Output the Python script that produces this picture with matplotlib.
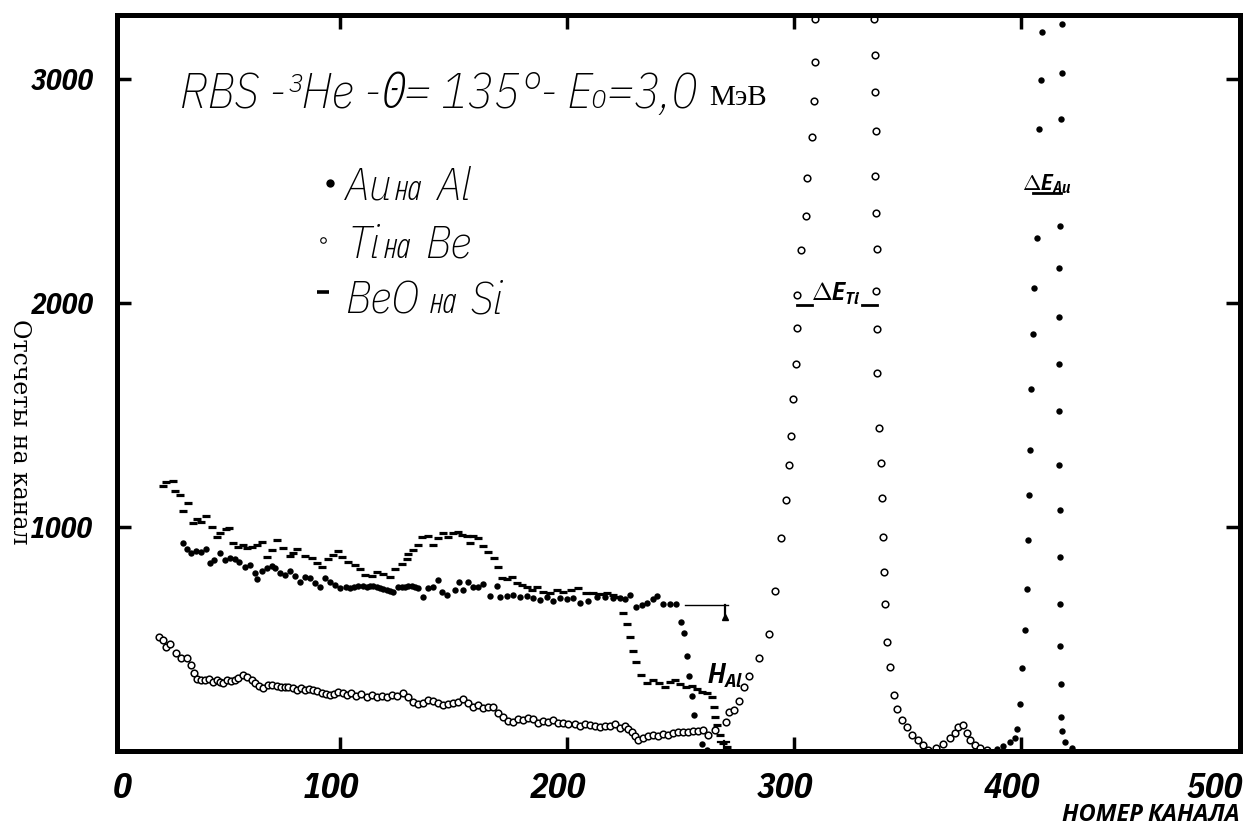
import matplotlib
matplotlib.use("Agg")
import matplotlib.pyplot as plt
from matplotlib.lines import Line2D

# --- Au на Al (filled dots): channel, counts ---
au_ch = [30.7, 32.5, 34.4, 36.6, 39, 41, 42.7, 44.6, 47.1, 49.3, 51.5, 53.7, 55.6, 58.1, 60.4,
         62.6, 63.3, 65.5, 67.7, 69.9, 71.4, 73.6, 75.8, 78, 80.2, 82.4, 84.6, 86.8, 89, 91.2,
         93.4, 95.6, 97.8, 100, 102.5, 104.4, 106.2, 108, 110, 111.8, 113.2, 114.7, 116.2, 117.6,
         119, 120.6, 122, 123.5, 125.7, 127.2, 128.6, 130.1, 131.6, 133, 134.5, 136.7, 138.9, 141.1,
         143.3, 144.8, 147, 150.7, 152.6, 154.3, 156.5, 158.7, 160.9, 163.1, 166.1, 169, 170.5,
         173.4, 176.4, 179.3, 182.2, 185.2, 188.1, 191.1, 194, 196.9, 199.9, 202.8, 205.7, 209.4,
         213.1, 216.7, 220.4, 223.3, 225.6, 227.8, 230.4, 232.9, 235.4, 237.7, 239.8, 242.4, 245.4,
         248, 250.1, 251.5, 253, 253.9, 255.2, 256, 259.3, 261.5,
         389.3, 392.2, 395.2, 397.4, 398.4, 399.6, 400.6, 401.8, 402.5, 403.2, 403.7, 403.9, 404.4,
         405.4, 405.9, 406.9, 408.1, 408.7, 409.1,
         418, 418, 417.6, 417.2, 416.9, 416.9, 416.7, 416.7, 416.9, 417, 417, 417, 417.2, 417.5,
         417.8, 418, 419.4, 422.3]
au_cnt = [930, 902, 882, 894, 890, 900, 838, 853, 882, 853, 860, 856, 845, 820, 830,
          793, 767, 805, 816, 826, 816, 796, 786, 805, 781, 756, 778, 771, 751, 733,
          771, 756, 741, 726, 733, 726, 731, 737, 735, 733, 735, 737, 730, 726,
          722, 719, 715, 711, 731, 733, 733, 735, 737, 731, 726, 689, 726, 733,
          763, 711, 696, 719, 756, 719, 756, 731, 733, 746, 692, 737, 689,
          692, 696, 689, 692, 682, 674, 689, 671, 682, 678, 682, 662, 671,
          689, 689, 682, 682, 678, 696, 641, 652, 662, 678, 692, 656, 656,
          656, 577, 525, 424, 335, 247, 161, 31, 4,
          9, 24, 40, 60, 100, 208, 369, 541, 722, 943, 1142, 1342, 1617,
          1860, 2069, 2290, 2776, 2997, 3211,
          3246, 3026, 2820, 2345, 2158, 1937, 1727, 1518, 1275, 1076, 866, 656, 468, 300,
          150, 90, 42, 13]

# --- Ti на Be (open circles) ---
ti_ch = [20.4, 21.9, 23.6, 25.1, 27.8, 30, 32.5, 34.2, 35.7, 37.1, 38.8, 40.5, 42.4, 44.2, 46,
         47.1, 48.6, 50.4, 52, 53.7, 55.2, 57.4, 59.2, 61.1, 62.6, 64.5, 66.2, 68.4, 70.3, 72.1,
         73.9, 75.8, 77.2, 79.2, 80.9, 82.7, 84.6, 86.5, 88.2, 90, 91.9, 93.8, 95.6, 97.4, 99.3,
         101.2, 102.9, 105.1, 107.3, 109.5, 111.8, 114, 116.2, 118.4, 120.6, 122.8, 125, 127.9,
         130.1, 132.3, 134.5, 136.7, 138.9, 141.1, 143.3, 145.5, 147.7, 149.9, 152.1, 154.3,
         156.5, 158.7, 160.9, 163.1, 165.3, 167.5, 169.7, 171.9, 174.1, 176.3, 178.5, 180.7, 183,
         185.2, 187.4, 189.6, 191.8, 194, 196.2, 198.4, 200.6, 203.5, 205.7, 207.9, 210.1, 212.3,
         214.5, 216.7, 218.9, 221.1, 223.3, 225.6, 227, 228.5, 230, 231.4, 233.6, 235.8, 238,
         240.2, 242.4, 244.6, 246.8, 249, 251.2, 253.4, 255.6, 257.8, 260, 262.2, 265.2,
         270, 271.5, 273.8, 275.8, 278, 280, 284.7, 289, 291.6, 294.1, 296.5, 297.9, 298.7,
         299.7, 300.9, 301.2, 301.2, 303.1, 305.2, 305.9, 307.8, 308.8, 309.3, 309.3,
         335.2, 335.7, 335.7, 336.1, 335.7, 336.1, 336.4, 336.1, 336.4, 336.7, 337.6, 338.2,
         338.7, 339.1, 339.6, 340.1, 340.8, 342.3, 344, 345.6, 347.4, 349.6, 352, 354.8, 357,
         359, 362.8, 365.8, 368.7, 370.9, 372.4, 374.6, 376.3, 377.5, 379.7, 382, 384.9]
ti_cnt = [510, 496, 463, 478, 439, 417, 414, 384, 350, 320, 317, 317, 320, 307, 317,
          310, 302, 317, 312, 317, 327, 339, 332, 317, 305, 290, 280, 295, 295, 290,
          284, 287, 284, 280, 272, 280, 272, 275, 272, 269, 260, 254, 250, 253, 265,
          260, 250, 257, 246, 254, 243, 250, 243, 246, 240, 250, 246, 257,
          243, 220, 210, 213, 228, 225, 213, 205, 210, 213, 220, 231,
          216, 198, 205, 190, 195, 198, 168, 153, 135, 131, 141, 138, 146,
          141, 126, 135, 131, 138, 124, 126, 121, 121, 113, 121, 116, 110,
          106, 113, 110, 121, 101, 113, 98, 86, 65, 51, 57, 65, 71,
          68, 76, 71, 80, 83, 86, 86, 91, 91, 94, 71, 94,
          131, 175, 182, 225, 287, 335, 414, 523, 716, 950, 1120, 1275, 1407,
          1572, 1727, 1887, 2036, 2235, 2390, 2560, 2743, 2902, 3074, 3270,
          3268, 3108, 2942, 2770, 2567, 2400, 2240, 2054, 1882, 1688, 1444, 1285,
          1130, 954, 800, 656, 485, 373, 252, 189, 140, 105, 72, 50, 27,
          5, 12, 31, 58, 81, 109, 114, 81, 50, 27, 13, 5]

# --- BeO на Si (dashes) ---
beo_ch = [21.9, 23.6, 26.3, 27.3, 29.5, 31, 33.2, 35.4, 36.9, 39, 41, 43.5, 45.7, 47.1, 49.8,
          51.2, 53, 55.2, 57.1, 59, 61.1, 63.3, 65.5, 67.7, 69.9, 72.1, 75, 78, 79.4, 80.9, 84.6,
          87.5, 89.7, 91.9, 94.8, 97.1, 99.3, 100.7, 103.7, 106.6, 108.8, 111, 114, 116.2, 119.1,
          122, 124.2, 127.2, 129.4, 130.1, 132.3, 134.5, 136, 138.9, 141.1, 143.3, 145.5, 147.7,
          149.9, 152.1, 153.6, 155.8, 157.3, 158.7, 160.9, 163.1, 165.3, 167.8, 169.8, 171.2,
          173.4, 175.6, 177.8, 180, 182.2, 184.4, 186.6, 189.6, 192.5, 195.5, 198.4, 202, 204.8,
          208.6, 211.5, 214.5, 217.5, 220.4, 222.6, 224.8, 226.3, 227.8, 229, 230.4, 232.5, 235.1,
          238, 240.6, 243.2, 245.4, 247.6, 249.8, 252.4, 254.9, 257.1, 259.3, 261.5, 263.7, 264.7,
          265.2, 265.9, 267.4, 268.9, 270.3]
beo_cnt = [1183, 1202, 1207, 1162, 1143, 1073, 1109, 1016, 1034, 1024, 1049, 1001, 954, 972, 990,
           997, 930, 912, 920, 905, 909, 920, 932, 867, 897, 942, 905, 871, 883, 900, 871,
           860, 838, 823, 856, 875, 894, 867, 845, 830, 811, 786, 781, 800, 790,
           775, 811, 835, 856, 879, 897, 920, 954, 960, 920, 949, 975, 957,
           972, 979, 964, 960, 927, 960, 949, 915, 890, 860, 823, 771,
           767, 775, 751, 741, 733, 719, 733, 711, 707, 719, 711, 719, 726,
           707, 707, 701, 704, 696, 689, 615, 567, 508, 448, 396, 339, 305,
           317, 305, 287, 309, 317, 299, 284, 290, 275, 265, 258, 240, 195,
           153, 116, 71, 37, 19]

x_ticks = [0, 100, 200, 300, 400, 500]
y_ticks = [1000, 2000, 3000]

hand = ["IBM Plex Sans Condensed", "Open Sans", "DejaVu Sans"]
plt.rcParams["font.family"] = hand
plt.rcParams["mathtext.fontset"] = "custom"
plt.rcParams["mathtext.it"] = "IBM Plex Sans Condensed:italic:bold"
plt.rcParams["mathtext.rm"] = "IBM Plex Sans Condensed:bold"
plt.rcParams["mathtext.bf"] = "IBM Plex Sans Condensed:bold"

W, H = 1249, 827


def fx(px):
    return px / W


def fy(py):
    return 1 - py / H


fig = plt.figure(figsize=(W / 100, H / 100), dpi=100)
ax = fig.add_axes([fx(117), fy(751), fx(1240) - fx(117), fy(15) - fy(751)])

ax.plot(beo_ch, beo_cnt, "_", color="k", ms=6, mew=2.3)
ax.plot(au_ch, au_cnt, "o", color="k", ms=4.6, mew=0)
ax.plot(ti_ch, ti_cnt, "o", mfc="white", mec="k", ms=4.8, mew=1.1)

# surface marker near Au edge
ax.plot([252, 271], [652, 652], color="k", lw=1)
ax.plot([269.5, 269.5], [652, 600], color="k", lw=1.6)
ax.plot([269.5], [598], "^", color="k", ms=5)
ax.plot([269, 269], [0, 45], color="k", lw=1.6)
ax.plot([266.5, 271.5], [38, 38], color="k", lw=1.6)

# energy widths
ax.plot([301.2, 307.8], [1991, 1991], color="k", lw=2)
ax.plot([329.8, 336.4], [1991, 1991], color="k", lw=2)
ax.text(318.5, 2010, r"$\Delta E_{Ti}$", fontsize=18, ha="center", va="baseline")
ax.plot([405.5, 417.5], [2490, 2490], color="k", lw=2)
ax.text(411.5, 2505, r"$\Delta E_{Au}$", fontsize=16, ha="center", va="baseline")
ax.text(270, 300, r"$H_{Al}$", fontsize=20, ha="center", va="baseline")

ax.set_xlim(1.8, 496.5)
ax.set_ylim(0, 3286)
ax.set_xticks([100, 200, 300, 400])
ax.set_xticklabels([])
ax.set_yticks(y_ticks)
ax.set_yticklabels([str(v) for v in y_ticks], fontsize=21, fontweight="bold", style="italic")
ax.tick_params(direction="in", length=10, width=2.5, top=True, right=True, pad=17)
for s in ax.spines.values():
    s.set_linewidth(3.6)

for v in x_ticks:
    px = 113 + 2.27 * v - 9
    if v == 0:
        px = 122
    if v == 500:
        px = 1215
    fig.text(fx(px), fy(788), str(v), fontsize=25, fontweight="bold", style="italic",
             ha="center", va="center")

fig.text(fx(1240), fy(826), "НОМЕР КАНАЛА", fontsize=17, fontweight="bold", style="italic",
         fontstretch="condensed", ha="right", va="bottom")
fig.text(fx(19), fy(432), "Отсчеты на канал", fontsize=17, family="DejaVu Serif",
         rotation=270, ha="center", va="center")

# title
fig.text(fx(180), fy(108), "RBS -³He -Θ= 135°- E₀=3,0", fontsize=35, style="italic",
         fontweight="light", fontstretch="condensed", va="baseline")
fig.text(fx(709), fy(105), "МэВ", fontsize=21, family="Liberation Serif", va="baseline")

# legend
fig.add_artist(Line2D([fx(330)], [fy(183)], marker="o", color="k", ms=6, mew=0))
fig.add_artist(Line2D([fx(323)], [fy(240)], marker="o", mfc="white", mec="k", ms=4, mew=0.8))
fig.add_artist(Line2D([fx(323)], [fy(292)], marker="_", color="k", ms=9, mew=2.6))
leg = [("Au", 345, 200), ("на", 394, 200), ("Al", 437, 200),
       ("Ti", 347, 258), ("на", 383, 258), ("Be", 425, 258),
       ("BeO", 345, 313), ("на", 429, 313), ("Si", 470, 313)]
for s, px, py in leg:
    fs = 25 if s == "на" else 33
    fig.text(fx(px), fy(py), s, fontsize=fs, style="italic", fontweight="light",
             fontstretch="condensed", va="baseline")

fig.savefig("out.png", dpi=100)
